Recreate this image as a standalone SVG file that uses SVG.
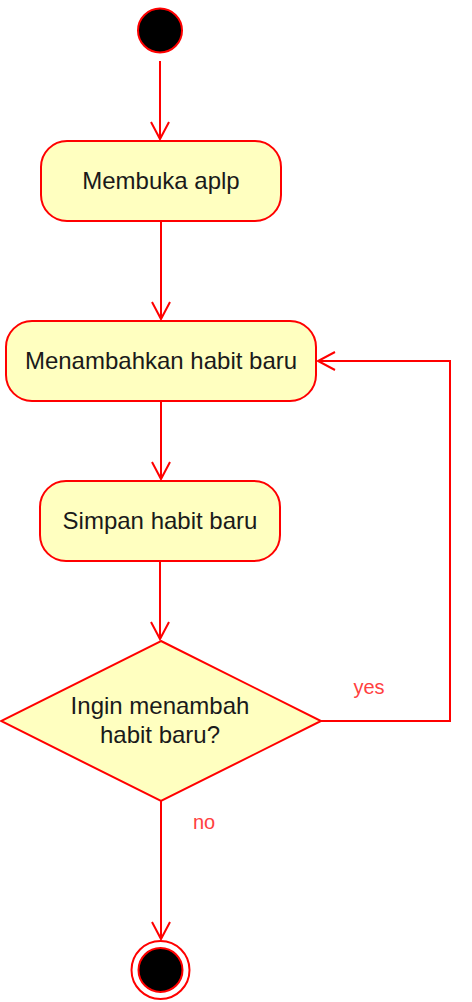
<svg xmlns="http://www.w3.org/2000/svg" width="472" height="1002" viewBox="0 0 472 1002">
<style>
.act{fill:#FFFFC0;stroke:#FF0000;stroke-width:2}
.lbl{font-family:"Liberation Sans",Arial,sans-serif;font-size:24px;fill:#1a1a1a;text-anchor:middle}
.edge{fill:none;stroke:#FF0000;stroke-width:2}
.elbl{font-family:"Liberation Sans",Arial,sans-serif;font-size:20px;fill:#FF4040;text-anchor:middle}
</style>
<defs>
<marker id="open" markerUnits="userSpaceOnUse" markerWidth="24" markerHeight="24" viewBox="-20 -12 24 24" refX="0" refY="0" orient="auto">
<path d="M-17,-9 L0,0 L-17,9" fill="none" stroke="#FF0000" stroke-width="2"/>
</marker>
</defs>
<rect width="472" height="1002" fill="#ffffff"/>
<g id="connectors">
<path class="edge" d="M160,61 L160,139" marker-end="url(#open)"/>
<path class="edge" d="M161,221 L161,319" marker-end="url(#open)"/>
<path class="edge" d="M161,401 L161,479" marker-end="url(#open)"/>
<path class="edge" d="M160,561 L160,639" marker-end="url(#open)"/>
<path class="edge" d="M321,721 L450,721 L450,361 L318,361" marker-end="url(#open)"/>
<text class="elbl" x="369" y="694">yes</text>
<path class="edge" d="M161,801 L161,939" marker-end="url(#open)"/>
<text class="elbl" x="204" y="829">no</text>
</g>
<g id="start">
<circle cx="160" cy="30.5" r="22" fill="#000000" stroke="#FF0000" stroke-width="2"/>
</g>
<g id="membuka">
<rect class="act" x="41" y="141" width="240" height="80" rx="26" ry="26"/>
<text class="lbl" x="161" y="189">Membuka aplp</text>
</g>
<g id="menambahkan">
<rect class="act" x="6" y="321" width="310" height="80" rx="26" ry="26"/>
<text class="lbl" x="161" y="369">Menambahkan habit baru</text>
</g>
<g id="simpan">
<rect class="act" x="40" y="481" width="240" height="80" rx="26" ry="26"/>
<text class="lbl" x="160" y="529">Simpan habit baru</text>
</g>
<g id="decision">
<path class="act" d="M161,641 L321,721 L161,801 L1,721 Z"/>
<text class="lbl" x="160" y="714">Ingin menambah</text>
<text class="lbl" x="160" y="743">habit baru?</text>
</g>
<g id="end">
<circle cx="160.5" cy="970" r="29" fill="#ffffff" stroke="#FF0000" stroke-width="2"/>
<circle cx="160.5" cy="970" r="22" fill="#000000" stroke="#FF0000" stroke-width="2"/>
</g>
</svg>
